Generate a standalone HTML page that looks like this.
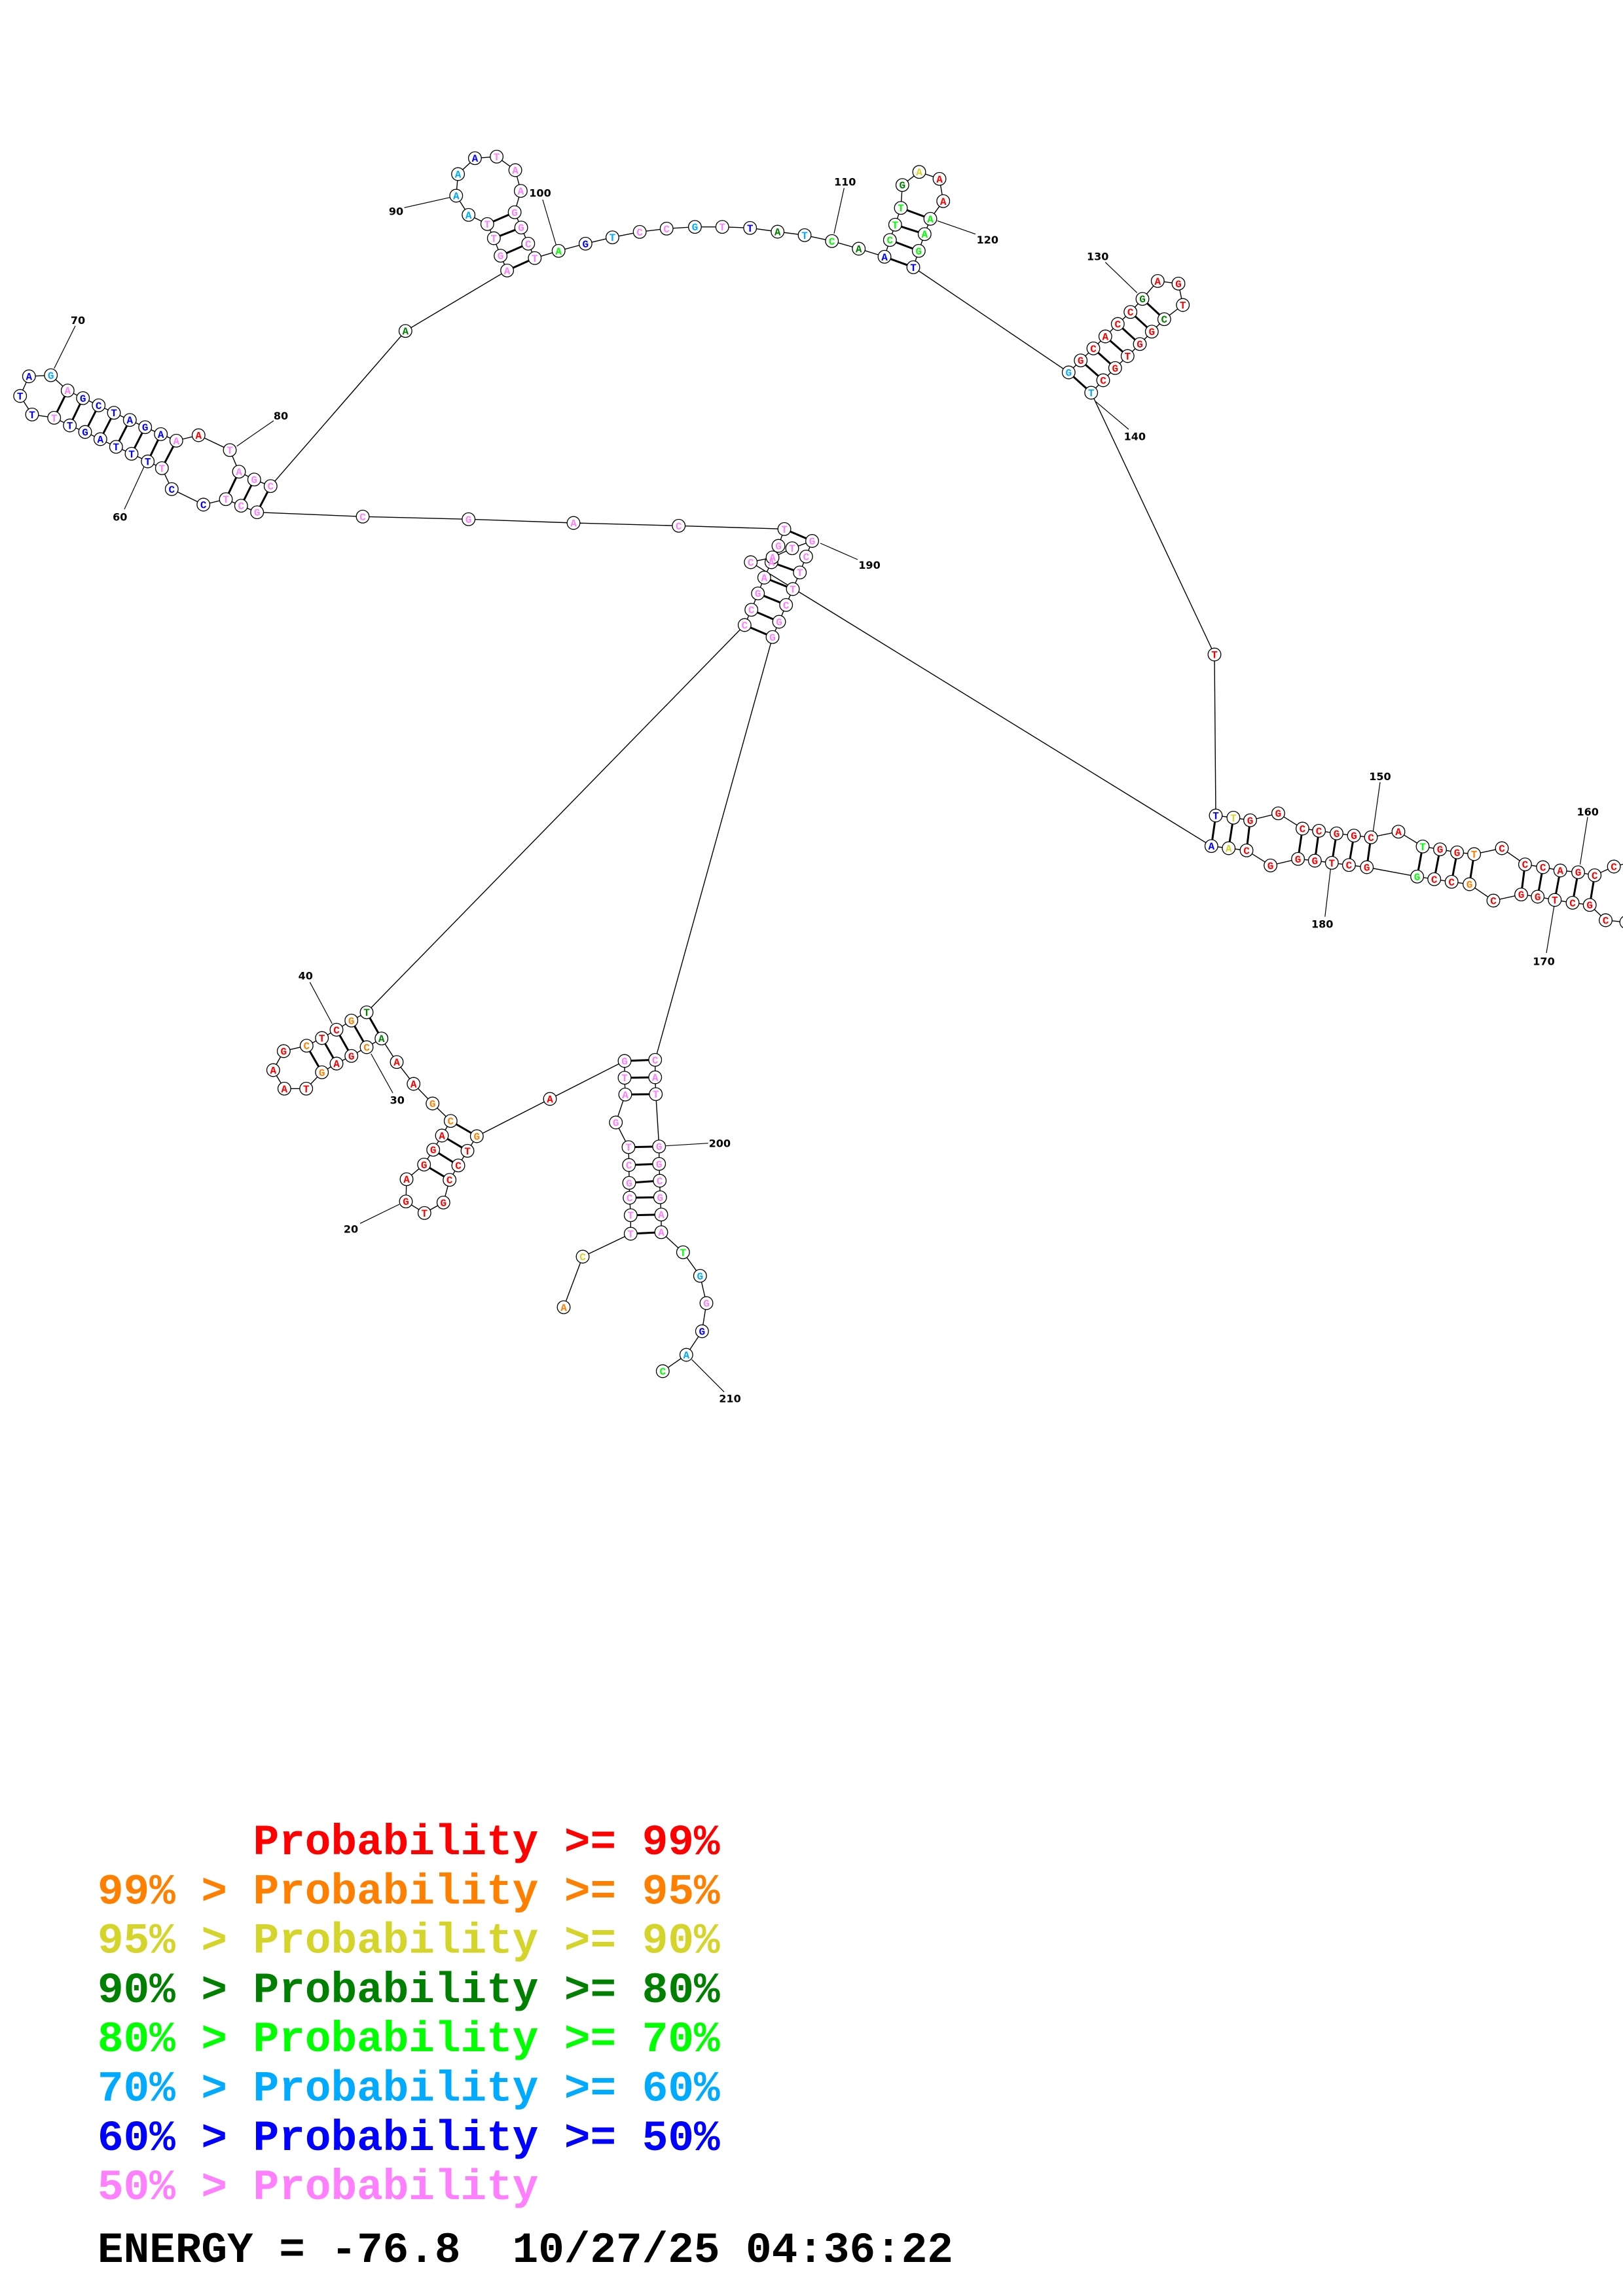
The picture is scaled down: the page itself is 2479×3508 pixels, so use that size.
<!DOCTYPE html>
<html><head><meta charset="utf-8"><style>
html,body{margin:0;padding:0;background:#fff}
svg{display:block}
.n{font:bold 16px "Liberation Mono","DejaVu Sans Mono",monospace;text-anchor:middle}
.l{font:bold 16px "DejaVu Sans","Liberation Sans",sans-serif;text-anchor:middle}
.lg{font:bold 66px "Liberation Mono","DejaVu Sans Mono",monospace}
.r{fill:#ff0000}.o{fill:#ff8000}.y{fill:#d4d42a}.d{fill:#008000}.g{fill:#00ff00}.c{fill:#00aaff}.b{fill:#0000ff}.p{fill:#ff80ff}.k{fill:#000}
</style></head><body>
<svg width="2479" height="3508" viewBox="0 0 2479 3508" xmlns="http://www.w3.org/2000/svg">
<rect width="2479" height="3508" fill="#fff"/>
<!-- backbone -->
<polyline fill="none" stroke="#000" stroke-width="1.4" points="861,1997.3 890,1920 963.3,1885 963.3,1856.7 961.7,1830 961,1807.3 960.7,1780 960,1752.7 940.7,1715 955,1672.3 954,1646.7 954,1621 840,1679 728.3,1736 714,1758.3 700,1780.7 686.7,1802.7 677.3,1837.3 648.3,1853.3 620,1835.7 621,1801.7 647.7,1779.3 661.7,1756.7 675,1735 688.3,1712.7 660.7,1686 631.7,1656 606,1622.7 582.7,1586.7 560,1600 536.7,1613.3 514,1625 491.7,1638.3 467.7,1663.3 434.3,1663.3 417.3,1635 433.3,1606 468.3,1597.7 491.7,1586 514,1573.3 536.7,1559.3 560,1546.7 1137.3,955 1147.7,931.7 1157.7,906.7 1167.3,882.5 1178.3,859 1189,834 1198,808.3 1036.7,803.3 876,799 715.7,793.3 554,789.3 392.7,782.7 368.3,772.7 345,762.7 310.7,771 262.3,747.3 247.3,715.3 225.7,705 201,693.3 177.3,682.7 153.3,671 130,660 106.7,650 82.7,638.3 49,633.3 30.7,605 44.3,575 77.7,573.3 103.3,596.7 126.7,608.3 150.7,619.3 174,630.7 198.3,641.7 221.7,652.7 245.7,663.3 269.3,673.3 303.3,665 351,687.7 365,720.7 388.3,732.7 413.3,742.7 619.3,505.7 774.6,413.3 764.6,390.7 754.3,364 744.3,342.3 715.7,328.3 696.8,299 699.6,266 725.4,241.7 758.6,239.3 787.1,260 795.4,291.7 786.1,324.3 796.1,347.7 806.8,372.3 816.8,394.3 853.2,383.3 894.3,372.3 935.4,362.7 977.1,354.3 1018.2,349.3 1061.4,346.7 1103.2,346.7 1145.7,348.3 1187.7,354 1229,359.3 1270.7,368.3 1311.7,380 1351,392.3 1359.3,366.7 1367.3,343.3 1376,317.7 1378.3,282.7 1404,262.7 1435,273.3 1440.7,307.3 1421,334.3 1412.3,357.7 1403.3,383.3 1395,408.3 1632.3,569 1650.7,550.7 1670,532.3 1688.3,514 1707.3,495 1726.7,476.7 1745,456.7 1768.3,429.3 1800,433.3 1806.7,466 1778.3,487.7 1759.3,506.7 1741,525.7 1722.3,544 1703.3,562.3 1685,581 1666.7,600 1855,1000 1857,1246 1883.9,1249.3 1909.5,1253.3 1952.4,1242.7 1989.4,1266 2014.6,1269.3 2041.5,1273.3 2068,1276.7 2094,1279.3 2136,1270.7 2173,1293.3 2199.5,1297.7 2225.6,1302.3 2251.6,1305 2294,1296 2329.4,1320.7 2356.7,1325 2383.2,1330 2410.5,1332.7 2435.7,1337.3 2465.1,1324 2500,1315 2520,1370 2510,1410 2484,1409 2452.5,1406 2428.2,1382.7 2402,1379.3 2374.8,1375 2348.7,1370 2323.5,1366.7 2281,1376 2244.5,1351 2217.2,1347.3 2190.7,1343.3 2164.6,1339.3 2087.7,1325 2060.4,1321.7 2034.3,1318.3 2008.3,1315 1982.6,1312.3 1940.6,1322.3 1904,1299.3 1876.7,1296 1850.3,1292.7 1146.7,859 1180,851.7 1210,837.7 1240.5,826.5 1231.3,850.3 1221.7,874.7 1211,900 1200.7,924.3 1190,950 1180,973.3 1000.7,1619.3 1000.7,1646 1001.7,1671.7 1006.7,1751.7 1006.7,1778.3 1007.7,1804 1008.3,1829.3 1010,1855.7 1010,1882.7 1043.3,1913.3 1069.3,1949.3 1079,1991 1072.3,2034 1048.3,2070 1012.3,2095"/>
<!-- base pairs -->
<path fill="none" stroke="#000" stroke-width="3" d="M963.3,1885L1010,1882.7M963.3,1856.7L1010,1855.7M961.7,1830L1008.3,1829.3M961,1807.3L1007.7,1804M960.7,1780L1006.7,1778.3M960,1752.7L1006.7,1751.7M955,1672.3L1001.7,1671.7M954,1646.7L1000.7,1646M954,1621L1000.7,1619.3
M728.3,1736L688.3,1712.7M714,1758.3L675,1735M700,1780.7L661.7,1756.7M686.7,1802.7L647.7,1779.3
M582.7,1586.7L560,1546.7M560,1600L536.7,1559.3M536.7,1613.3L514,1573.3M514,1625L491.7,1586M491.7,1638.3L468.3,1597.7
M1137.3,955L1180,973.3M1147.7,931.7L1190,950M1157.7,906.7L1200.7,924.3M1167.3,882.5L1211,900M1178.3,859L1221.7,874.7M1198,808.3L1240.5,826.5
M392.7,782.7L413.3,742.7M368.3,772.7L388.3,732.7M345,762.7L365,720.7M247.3,715.3L269.3,673.3M225.7,705L245.7,663.3M201,693.3L221.7,652.7M177.3,682.7L198.3,641.7M153.3,671L174,630.7M130,660L150.7,619.3M106.7,650L126.7,608.3M82.7,638.3L103.3,596.7
M774.6,413.3L816.8,394.3M764.6,390.7L806.8,372.3M754.3,364L796.1,347.7M744.3,342.3L786.1,324.3
M1351,392.3L1395,408.3M1359.3,366.7L1403.3,383.3M1367.3,343.3L1412.3,357.7M1376,317.7L1421,334.3
M1632.3,569L1666.7,600M1650.7,550.7L1685,581M1670,532.3L1703.3,562.3M1688.3,514L1722.3,544M1707.3,495L1741,525.7M1726.7,476.7L1759.3,506.7M1745,456.7L1778.3,487.7
M1857,1246L1850.3,1292.7M1883.9,1249.3L1876.7,1296M1909.5,1253.3L1904,1299.3M1989.4,1266L1982.6,1312.3M2014.6,1269.3L2008.3,1315M2041.5,1273.3L2034.3,1318.3M2068,1276.7L2060.4,1321.7M2094,1279.3L2087.7,1325M2173,1293.3L2164.6,1339.3M2199.5,1297.7L2190.7,1343.3M2225.6,1302.3L2217.2,1347.3M2251.6,1305L2244.5,1351M2329.4,1320.7L2323.5,1366.7M2356.7,1325L2348.7,1370M2383.2,1330L2374.8,1375M2410.5,1332.7L2402,1379.3M2435.7,1337.3L2428.2,1382.7"/>
<!-- label lines -->
<path fill="none" stroke="#000" stroke-width="1.2" d="M550,1869.3L610,1840M600,1670L566.7,1610M473.3,1500.7L507.3,1564M190,778L220,713M115,498L82.7,563M418,642.7L361.7,681.7M617.5,317.3L687.1,301.7M828.9,305L849.6,375M1289.3,287.3L1274,356.7M1431.7,337.3L1490,357.7M1688.3,400.7L1736.7,447.3M1673.3,613.3L1724,656M2108,1195L2097.4,1270M2425,1248.3L2413.5,1320.7M2362,1456L2374,1383M2023.8,1400.7L2032.3,1328M1253,830L1310,855M1016.7,1750.7L1081.7,1746.7M1056.7,2077.3L1106,2126.7"/>
<!-- nodes -->
<g fill="#fff" stroke="#000" stroke-width="1.3">
<circle cx="861" cy="1997.3" r="9.8"/><circle cx="890" cy="1920" r="9.8"/><circle cx="963.3" cy="1885" r="9.8"/><circle cx="963.3" cy="1856.7" r="9.8"/><circle cx="961.7" cy="1830" r="9.8"/><circle cx="961" cy="1807.3" r="9.8"/><circle cx="960.7" cy="1780" r="9.8"/><circle cx="960" cy="1752.7" r="9.8"/><circle cx="940.7" cy="1715" r="9.8"/><circle cx="955" cy="1672.3" r="9.8"/><circle cx="954" cy="1646.7" r="9.8"/><circle cx="954" cy="1621" r="9.8"/><circle cx="840" cy="1679" r="9.8"/><circle cx="728.3" cy="1736" r="9.8"/><circle cx="714" cy="1758.3" r="9.8"/><circle cx="700" cy="1780.7" r="9.8"/><circle cx="686.7" cy="1802.7" r="9.8"/><circle cx="677.3" cy="1837.3" r="9.8"/><circle cx="648.3" cy="1853.3" r="9.8"/><circle cx="620" cy="1835.7" r="9.8"/><circle cx="621" cy="1801.7" r="9.8"/><circle cx="647.7" cy="1779.3" r="9.8"/><circle cx="661.7" cy="1756.7" r="9.8"/><circle cx="675" cy="1735" r="9.8"/><circle cx="688.3" cy="1712.7" r="9.8"/><circle cx="660.7" cy="1686" r="9.8"/><circle cx="631.7" cy="1656" r="9.8"/><circle cx="606" cy="1622.7" r="9.8"/><circle cx="582.7" cy="1586.7" r="9.8"/><circle cx="560" cy="1600" r="9.8"/><circle cx="536.7" cy="1613.3" r="9.8"/><circle cx="514" cy="1625" r="9.8"/><circle cx="491.7" cy="1638.3" r="9.8"/><circle cx="467.7" cy="1663.3" r="9.8"/><circle cx="434.3" cy="1663.3" r="9.8"/><circle cx="417.3" cy="1635" r="9.8"/><circle cx="433.3" cy="1606" r="9.8"/><circle cx="468.3" cy="1597.7" r="9.8"/><circle cx="491.7" cy="1586" r="9.8"/><circle cx="514" cy="1573.3" r="9.8"/><circle cx="536.7" cy="1559.3" r="9.8"/><circle cx="560" cy="1546.7" r="9.8"/>
<circle cx="1137.3" cy="955" r="9.8"/><circle cx="1147.7" cy="931.7" r="9.8"/><circle cx="1157.7" cy="906.7" r="9.8"/><circle cx="1167.3" cy="882.5" r="9.8"/><circle cx="1178.3" cy="859" r="9.8"/><circle cx="1189" cy="834" r="9.8"/><circle cx="1198" cy="808.3" r="9.8"/><circle cx="1036.7" cy="803.3" r="9.8"/><circle cx="876" cy="799" r="9.8"/><circle cx="715.7" cy="793.3" r="9.8"/><circle cx="554" cy="789.3" r="9.8"/><circle cx="392.7" cy="782.7" r="9.8"/><circle cx="368.3" cy="772.7" r="9.8"/><circle cx="345" cy="762.7" r="9.8"/><circle cx="310.7" cy="771" r="9.8"/><circle cx="262.3" cy="747.3" r="9.8"/><circle cx="247.3" cy="715.3" r="9.8"/><circle cx="225.7" cy="705" r="9.8"/><circle cx="201" cy="693.3" r="9.8"/><circle cx="177.3" cy="682.7" r="9.8"/><circle cx="153.3" cy="671" r="9.8"/><circle cx="130" cy="660" r="9.8"/><circle cx="106.7" cy="650" r="9.8"/><circle cx="82.7" cy="638.3" r="9.8"/><circle cx="49" cy="633.3" r="9.8"/><circle cx="30.7" cy="605" r="9.8"/><circle cx="44.3" cy="575" r="9.8"/><circle cx="77.7" cy="573.3" r="9.8"/><circle cx="103.3" cy="596.7" r="9.8"/><circle cx="126.7" cy="608.3" r="9.8"/><circle cx="150.7" cy="619.3" r="9.8"/><circle cx="174" cy="630.7" r="9.8"/><circle cx="198.3" cy="641.7" r="9.8"/><circle cx="221.7" cy="652.7" r="9.8"/><circle cx="245.7" cy="663.3" r="9.8"/><circle cx="269.3" cy="673.3" r="9.8"/><circle cx="303.3" cy="665" r="9.8"/><circle cx="351" cy="687.7" r="9.8"/><circle cx="365" cy="720.7" r="9.8"/><circle cx="388.3" cy="732.7" r="9.8"/><circle cx="413.3" cy="742.7" r="9.8"/>
<circle cx="619.3" cy="505.7" r="9.8"/><circle cx="774.6" cy="413.3" r="9.8"/><circle cx="764.6" cy="390.7" r="9.8"/><circle cx="754.3" cy="364" r="9.8"/><circle cx="744.3" cy="342.3" r="9.8"/><circle cx="715.7" cy="328.3" r="9.8"/><circle cx="696.8" cy="299" r="9.8"/><circle cx="699.6" cy="266" r="9.8"/><circle cx="725.4" cy="241.7" r="9.8"/><circle cx="758.6" cy="239.3" r="9.8"/><circle cx="787.1" cy="260" r="9.8"/><circle cx="795.4" cy="291.7" r="9.8"/><circle cx="786.1" cy="324.3" r="9.8"/><circle cx="796.1" cy="347.7" r="9.8"/><circle cx="806.8" cy="372.3" r="9.8"/><circle cx="816.8" cy="394.3" r="9.8"/><circle cx="853.2" cy="383.3" r="9.8"/><circle cx="894.3" cy="372.3" r="9.8"/><circle cx="935.4" cy="362.7" r="9.8"/><circle cx="977.1" cy="354.3" r="9.8"/><circle cx="1018.2" cy="349.3" r="9.8"/><circle cx="1061.4" cy="346.7" r="9.8"/><circle cx="1103.2" cy="346.7" r="9.8"/><circle cx="1145.7" cy="348.3" r="9.8"/><circle cx="1187.7" cy="354" r="9.8"/><circle cx="1229" cy="359.3" r="9.8"/><circle cx="1270.7" cy="368.3" r="9.8"/><circle cx="1311.7" cy="380" r="9.8"/><circle cx="1351" cy="392.3" r="9.8"/><circle cx="1359.3" cy="366.7" r="9.8"/><circle cx="1367.3" cy="343.3" r="9.8"/><circle cx="1376" cy="317.7" r="9.8"/><circle cx="1378.3" cy="282.7" r="9.8"/><circle cx="1404" cy="262.7" r="9.8"/><circle cx="1435" cy="273.3" r="9.8"/><circle cx="1440.7" cy="307.3" r="9.8"/><circle cx="1421" cy="334.3" r="9.8"/><circle cx="1412.3" cy="357.7" r="9.8"/><circle cx="1403.3" cy="383.3" r="9.8"/><circle cx="1395" cy="408.3" r="9.8"/>
<circle cx="1632.3" cy="569" r="9.8"/><circle cx="1650.7" cy="550.7" r="9.8"/><circle cx="1670" cy="532.3" r="9.8"/><circle cx="1688.3" cy="514" r="9.8"/><circle cx="1707.3" cy="495" r="9.8"/><circle cx="1726.7" cy="476.7" r="9.8"/><circle cx="1745" cy="456.7" r="9.8"/><circle cx="1768.3" cy="429.3" r="9.8"/><circle cx="1800" cy="433.3" r="9.8"/><circle cx="1806.7" cy="466" r="9.8"/><circle cx="1778.3" cy="487.7" r="9.8"/><circle cx="1759.3" cy="506.7" r="9.8"/><circle cx="1741" cy="525.7" r="9.8"/><circle cx="1722.3" cy="544" r="9.8"/><circle cx="1703.3" cy="562.3" r="9.8"/><circle cx="1685" cy="581" r="9.8"/><circle cx="1666.7" cy="600" r="9.8"/><circle cx="1855" cy="1000" r="9.8"/>
<circle cx="1857" cy="1246" r="9.8"/><circle cx="1883.9" cy="1249.3" r="9.8"/><circle cx="1909.5" cy="1253.3" r="9.8"/><circle cx="1952.4" cy="1242.7" r="9.8"/><circle cx="1989.4" cy="1266" r="9.8"/><circle cx="2014.6" cy="1269.3" r="9.8"/><circle cx="2041.5" cy="1273.3" r="9.8"/><circle cx="2068" cy="1276.7" r="9.8"/><circle cx="2094" cy="1279.3" r="9.8"/><circle cx="2136" cy="1270.7" r="9.8"/><circle cx="2173" cy="1293.3" r="9.8"/><circle cx="2199.5" cy="1297.7" r="9.8"/><circle cx="2225.6" cy="1302.3" r="9.8"/><circle cx="2251.6" cy="1305" r="9.8"/><circle cx="2294" cy="1296" r="9.8"/><circle cx="2329.4" cy="1320.7" r="9.8"/><circle cx="2356.7" cy="1325" r="9.8"/><circle cx="2383.2" cy="1330" r="9.8"/><circle cx="2410.5" cy="1332.7" r="9.8"/><circle cx="2435.7" cy="1337.3" r="9.8"/><circle cx="2465.1" cy="1324" r="9.8"/><circle cx="2484" cy="1409" r="9.8"/><circle cx="2452.5" cy="1406" r="9.8"/><circle cx="2428.2" cy="1382.7" r="9.8"/><circle cx="2402" cy="1379.3" r="9.8"/><circle cx="2374.8" cy="1375" r="9.8"/><circle cx="2348.7" cy="1370" r="9.8"/><circle cx="2323.5" cy="1366.7" r="9.8"/><circle cx="2281" cy="1376" r="9.8"/><circle cx="2244.5" cy="1351" r="9.8"/><circle cx="2217.2" cy="1347.3" r="9.8"/><circle cx="2190.7" cy="1343.3" r="9.8"/><circle cx="2164.6" cy="1339.3" r="9.8"/><circle cx="2087.7" cy="1325" r="9.8"/><circle cx="2060.4" cy="1321.7" r="9.8"/><circle cx="2034.3" cy="1318.3" r="9.8"/><circle cx="2008.3" cy="1315" r="9.8"/><circle cx="1982.6" cy="1312.3" r="9.8"/><circle cx="1940.6" cy="1322.3" r="9.8"/><circle cx="1904" cy="1299.3" r="9.8"/><circle cx="1876.7" cy="1296" r="9.8"/><circle cx="1850.3" cy="1292.7" r="9.8"/>
<circle cx="1146.7" cy="859" r="9.8"/><circle cx="1180" cy="851.7" r="9.8"/><circle cx="1210" cy="837.7" r="9.8"/><circle cx="1240.5" cy="826.5" r="9.8"/><circle cx="1231.3" cy="850.3" r="9.8"/><circle cx="1221.7" cy="874.7" r="9.8"/><circle cx="1211" cy="900" r="9.8"/><circle cx="1200.7" cy="924.3" r="9.8"/><circle cx="1190" cy="950" r="9.8"/><circle cx="1180" cy="973.3" r="9.8"/>
<circle cx="1000.7" cy="1619.3" r="9.8"/><circle cx="1000.7" cy="1646" r="9.8"/><circle cx="1001.7" cy="1671.7" r="9.8"/><circle cx="1006.7" cy="1751.7" r="9.8"/><circle cx="1006.7" cy="1778.3" r="9.8"/><circle cx="1007.7" cy="1804" r="9.8"/><circle cx="1008.3" cy="1829.3" r="9.8"/><circle cx="1010" cy="1855.7" r="9.8"/><circle cx="1010" cy="1882.7" r="9.8"/><circle cx="1043.3" cy="1913.3" r="9.8"/><circle cx="1069.3" cy="1949.3" r="9.8"/><circle cx="1079" cy="1991" r="9.8"/><circle cx="1072.3" cy="2034" r="9.8"/><circle cx="1048.3" cy="2070" r="9.8"/><circle cx="1012.3" cy="2095" r="9.8"/>
</g>
<!-- node letters -->
<g class="n">
<text x="861" y="2002.8" class="o">A</text><text x="890" y="1925.5" class="y">C</text><text x="963.3" y="1890.5" class="p">T</text><text x="963.3" y="1862.2" class="p">T</text><text x="961.7" y="1835.5" class="p">C</text><text x="961" y="1812.8" class="p">G</text><text x="960.7" y="1785.5" class="p">C</text><text x="960" y="1758.2" class="p">T</text><text x="940.7" y="1720.5" class="p">G</text><text x="955" y="1677.8" class="p">A</text><text x="954" y="1652.2" class="p">T</text><text x="954" y="1626.5" class="p">G</text><text x="840" y="1684.5" class="r">A</text><text x="728.3" y="1741.5" class="o">G</text><text x="714" y="1763.8" class="r">T</text><text x="700" y="1786.2" class="r">C</text><text x="686.7" y="1808.2" class="r">C</text><text x="677.3" y="1842.8" class="r">G</text><text x="648.3" y="1858.8" class="r">T</text><text x="620" y="1841.2" class="r">G</text><text x="621" y="1807.2" class="r">A</text><text x="647.7" y="1784.8" class="r">G</text><text x="661.7" y="1762.2" class="r">G</text><text x="675" y="1740.5" class="r">A</text><text x="688.3" y="1718.2" class="o">C</text><text x="660.7" y="1691.5" class="o">G</text><text x="631.7" y="1661.5" class="r">A</text><text x="606" y="1628.2" class="r">A</text><text x="582.7" y="1592.2" class="d">A</text><text x="560" y="1605.5" class="o">C</text><text x="536.7" y="1618.8" class="r">G</text><text x="514" y="1630.5" class="r">A</text><text x="491.7" y="1643.8" class="o">G</text><text x="467.7" y="1668.8" class="r">T</text><text x="434.3" y="1668.8" class="r">A</text><text x="417.3" y="1640.5" class="r">A</text><text x="433.3" y="1611.5" class="r">G</text><text x="468.3" y="1603.2" class="o">C</text><text x="491.7" y="1591.5" class="r">T</text><text x="514" y="1578.8" class="r">C</text><text x="536.7" y="1564.8" class="o">G</text><text x="560" y="1552.2" class="d">T</text>
<text x="1137.3" y="960.5" class="p">C</text><text x="1147.7" y="937.2" class="p">C</text><text x="1157.7" y="912.2" class="p">G</text><text x="1167.3" y="888" class="p">A</text><text x="1178.3" y="864.5" class="p">A</text><text x="1189" y="839.5" class="p">G</text><text x="1198" y="813.8" class="p">T</text><text x="1036.7" y="808.8" class="p">C</text><text x="876" y="804.5" class="p">A</text><text x="715.7" y="798.8" class="p">G</text><text x="554" y="794.8" class="p">C</text><text x="392.7" y="788.2" class="p">G</text><text x="368.3" y="778.2" class="p">C</text><text x="345" y="768.2" class="p">T</text><text x="310.7" y="776.5" class="b">C</text><text x="262.3" y="752.8" class="b">C</text><text x="247.3" y="720.8" class="p">T</text><text x="225.7" y="710.5" class="b">T</text><text x="201" y="698.8" class="b">T</text><text x="177.3" y="688.2" class="b">T</text><text x="153.3" y="676.5" class="b">A</text><text x="130" y="665.5" class="b">G</text><text x="106.7" y="655.5" class="b">T</text><text x="82.7" y="643.8" class="p">T</text><text x="49" y="638.8" class="b">T</text><text x="30.7" y="610.5" class="b">T</text><text x="44.3" y="580.5" class="b">A</text><text x="77.7" y="578.8" class="c">G</text><text x="103.3" y="602.2" class="p">A</text><text x="126.7" y="613.8" class="b">G</text><text x="150.7" y="624.8" class="b">C</text><text x="174" y="636.2" class="b">T</text><text x="198.3" y="647.2" class="b">A</text><text x="221.7" y="658.2" class="b">G</text><text x="245.7" y="668.8" class="b">A</text><text x="269.3" y="678.8" class="p">A</text><text x="303.3" y="670.5" class="r">A</text><text x="351" y="693.2" class="p">T</text><text x="365" y="726.2" class="p">A</text><text x="388.3" y="738.2" class="p">G</text><text x="413.3" y="748.2" class="p">C</text>
<text x="619.3" y="511.2" class="d">A</text><text x="774.6" y="418.8" class="p">A</text><text x="764.6" y="396.2" class="p">G</text><text x="754.3" y="369.5" class="p">T</text><text x="744.3" y="347.8" class="p">T</text><text x="715.7" y="333.8" class="c">A</text><text x="696.8" y="304.5" class="c">A</text><text x="699.6" y="271.5" class="c">A</text><text x="725.4" y="247.2" class="b">A</text><text x="758.6" y="244.8" class="p">T</text><text x="787.1" y="265.5" class="p">A</text><text x="795.4" y="297.2" class="p">A</text><text x="786.1" y="329.8" class="p">G</text><text x="796.1" y="353.2" class="p">G</text><text x="806.8" y="377.8" class="p">C</text><text x="816.8" y="399.8" class="p">T</text><text x="853.2" y="388.8" class="g">A</text><text x="894.3" y="377.8" class="b">G</text><text x="935.4" y="368.2" class="c">T</text><text x="977.1" y="359.8" class="p">C</text><text x="1018.2" y="354.8" class="p">C</text><text x="1061.4" y="352.2" class="c">G</text><text x="1103.2" y="352.2" class="p">T</text><text x="1145.7" y="353.8" class="b">T</text><text x="1187.7" y="359.5" class="d">A</text><text x="1229" y="364.8" class="c">T</text><text x="1270.7" y="373.8" class="g">C</text><text x="1311.7" y="385.5" class="d">A</text><text x="1351" y="397.8" class="b">A</text><text x="1359.3" y="372.2" class="g">C</text><text x="1367.3" y="348.8" class="g">T</text><text x="1376" y="323.2" class="g">T</text><text x="1378.3" y="288.2" class="d">G</text><text x="1404" y="268.2" class="y">A</text><text x="1435" y="278.8" class="r">A</text><text x="1440.7" y="312.8" class="r">A</text><text x="1421" y="339.8" class="g">A</text><text x="1412.3" y="363.2" class="g">A</text><text x="1403.3" y="388.8" class="g">G</text><text x="1395" y="413.8" class="b">T</text>
<text x="1632.3" y="574.5" class="c">G</text><text x="1650.7" y="556.2" class="r">G</text><text x="1670" y="537.8" class="r">C</text><text x="1688.3" y="519.5" class="r">A</text><text x="1707.3" y="500.5" class="r">C</text><text x="1726.7" y="482.2" class="r">C</text><text x="1745" y="462.2" class="d">G</text><text x="1768.3" y="434.8" class="r">A</text><text x="1800" y="438.8" class="r">G</text><text x="1806.7" y="471.5" class="r">T</text><text x="1778.3" y="493.2" class="d">C</text><text x="1759.3" y="512.2" class="r">G</text><text x="1741" y="531.2" class="r">G</text><text x="1722.3" y="549.5" class="r">T</text><text x="1703.3" y="567.8" class="r">G</text><text x="1685" y="586.5" class="r">C</text><text x="1666.7" y="605.5" class="c">T</text><text x="1855" y="1005.5" class="r">T</text>
<text x="1857" y="1251.5" class="b">T</text><text x="1883.9" y="1254.8" class="y">T</text><text x="1909.5" y="1258.8" class="r">G</text><text x="1952.4" y="1248.2" class="r">G</text><text x="1989.4" y="1271.5" class="r">C</text><text x="2014.6" y="1274.8" class="r">C</text><text x="2041.5" y="1278.8" class="r">G</text><text x="2068" y="1282.2" class="r">G</text><text x="2094" y="1284.8" class="r">C</text><text x="2136" y="1276.2" class="r">A</text><text x="2173" y="1298.8" class="g">T</text><text x="2199.5" y="1303.2" class="r">G</text><text x="2225.6" y="1307.8" class="r">G</text><text x="2251.6" y="1310.5" class="o">T</text><text x="2294" y="1301.5" class="r">C</text><text x="2329.4" y="1326.2" class="r">C</text><text x="2356.7" y="1330.5" class="r">C</text><text x="2383.2" y="1335.5" class="r">A</text><text x="2410.5" y="1338.2" class="r">G</text><text x="2435.7" y="1342.8" class="r">C</text><text x="2465.1" y="1329.5" class="r">C</text><text x="2484" y="1414.5" class="r">C</text><text x="2452.5" y="1411.5" class="r">C</text><text x="2428.2" y="1388.2" class="r">G</text><text x="2402" y="1384.8" class="r">C</text><text x="2374.8" y="1380.5" class="r">T</text><text x="2348.7" y="1375.5" class="r">G</text><text x="2323.5" y="1372.2" class="r">G</text><text x="2281" y="1381.5" class="r">C</text><text x="2244.5" y="1356.5" class="o">G</text><text x="2217.2" y="1352.8" class="r">C</text><text x="2190.7" y="1348.8" class="r">C</text><text x="2164.6" y="1344.8" class="g">G</text><text x="2087.7" y="1330.5" class="r">G</text><text x="2060.4" y="1327.2" class="r">C</text><text x="2034.3" y="1323.8" class="r">T</text><text x="2008.3" y="1320.5" class="r">G</text><text x="1982.6" y="1317.8" class="r">G</text><text x="1940.6" y="1327.8" class="r">G</text><text x="1904" y="1304.8" class="r">C</text><text x="1876.7" y="1301.5" class="y">A</text><text x="1850.3" y="1298.2" class="b">A</text>
<text x="1146.7" y="864.5" class="p">C</text><text x="1180" y="857.2" class="p">A</text><text x="1210" y="843.2" class="p">T</text><text x="1240.5" y="832" class="p">G</text><text x="1231.3" y="855.8" class="p">C</text><text x="1221.7" y="880.2" class="p">T</text><text x="1211" y="905.5" class="p">T</text><text x="1200.7" y="929.8" class="p">C</text><text x="1190" y="955.5" class="p">G</text><text x="1180" y="978.8" class="p">G</text>
<text x="1000.7" y="1624.8" class="p">C</text><text x="1000.7" y="1651.5" class="p">A</text><text x="1001.7" y="1677.2" class="p">T</text><text x="1006.7" y="1757.2" class="p">G</text><text x="1006.7" y="1783.8" class="p">G</text><text x="1007.7" y="1809.5" class="p">C</text><text x="1008.3" y="1834.8" class="p">G</text><text x="1010" y="1861.2" class="p">A</text><text x="1010" y="1888.2" class="p">A</text><text x="1043.3" y="1918.8" class="g">T</text><text x="1069.3" y="1954.8" class="c">G</text><text x="1079" y="1996.5" class="p">G</text><text x="1072.3" y="2039.5" class="b">G</text><text x="1048.3" y="2075.5" class="c">A</text><text x="1012.3" y="2100.5" class="g">C</text>
</g>
<!-- numbering labels -->
<g class="l k">
<text x="536" y="1883.3">20</text><text x="606.7" y="1686.7">30</text><text x="466.7" y="1496.7">40</text><text x="183.3" y="795.3">60</text><text x="119" y="495">70</text><text x="429" y="641">80</text><text x="605" y="328.3">90</text><text x="825" y="300.3">100</text><text x="1290.7" y="283.3">110</text><text x="1508.3" y="372">120</text><text x="1676.7" y="397.7">130</text><text x="1733.3" y="672.7">140</text><text x="2107.9" y="1192">150</text><text x="2425.2" y="1246">160</text><text x="2358" y="1474.3">170</text><text x="2019.7" y="1417.7">180</text><text x="1328" y="869">190</text><text x="1099.3" y="1752.7">200</text><text x="1115" y="2142.7">210</text>
</g>
<!-- legend -->
<g class="lg">
<text x="386.6" y="2833" class="r">Probability &gt;= 99%</text>
<text x="149" y="2908.3" class="o">99% &gt; Probability &gt;= 95%</text>
<text x="149" y="2983.6" class="y">95% &gt; Probability &gt;= 90%</text>
<text x="149" y="3058.9" class="d">90% &gt; Probability &gt;= 80%</text>
<text x="149" y="3134.2" class="g">80% &gt; Probability &gt;= 70%</text>
<text x="149" y="3209.5" class="c">70% &gt; Probability &gt;= 60%</text>
<text x="149" y="3284.8" class="b">60% &gt; Probability &gt;= 50%</text>
<text x="149" y="3360.1" class="p">50% &gt; Probability</text>
<text x="149" y="3456" class="k">ENERGY = -76.8</text>
<text x="782.6" y="3456" class="k">10/27/25 04:36:22</text>
</g>
</svg>
</body></html>
